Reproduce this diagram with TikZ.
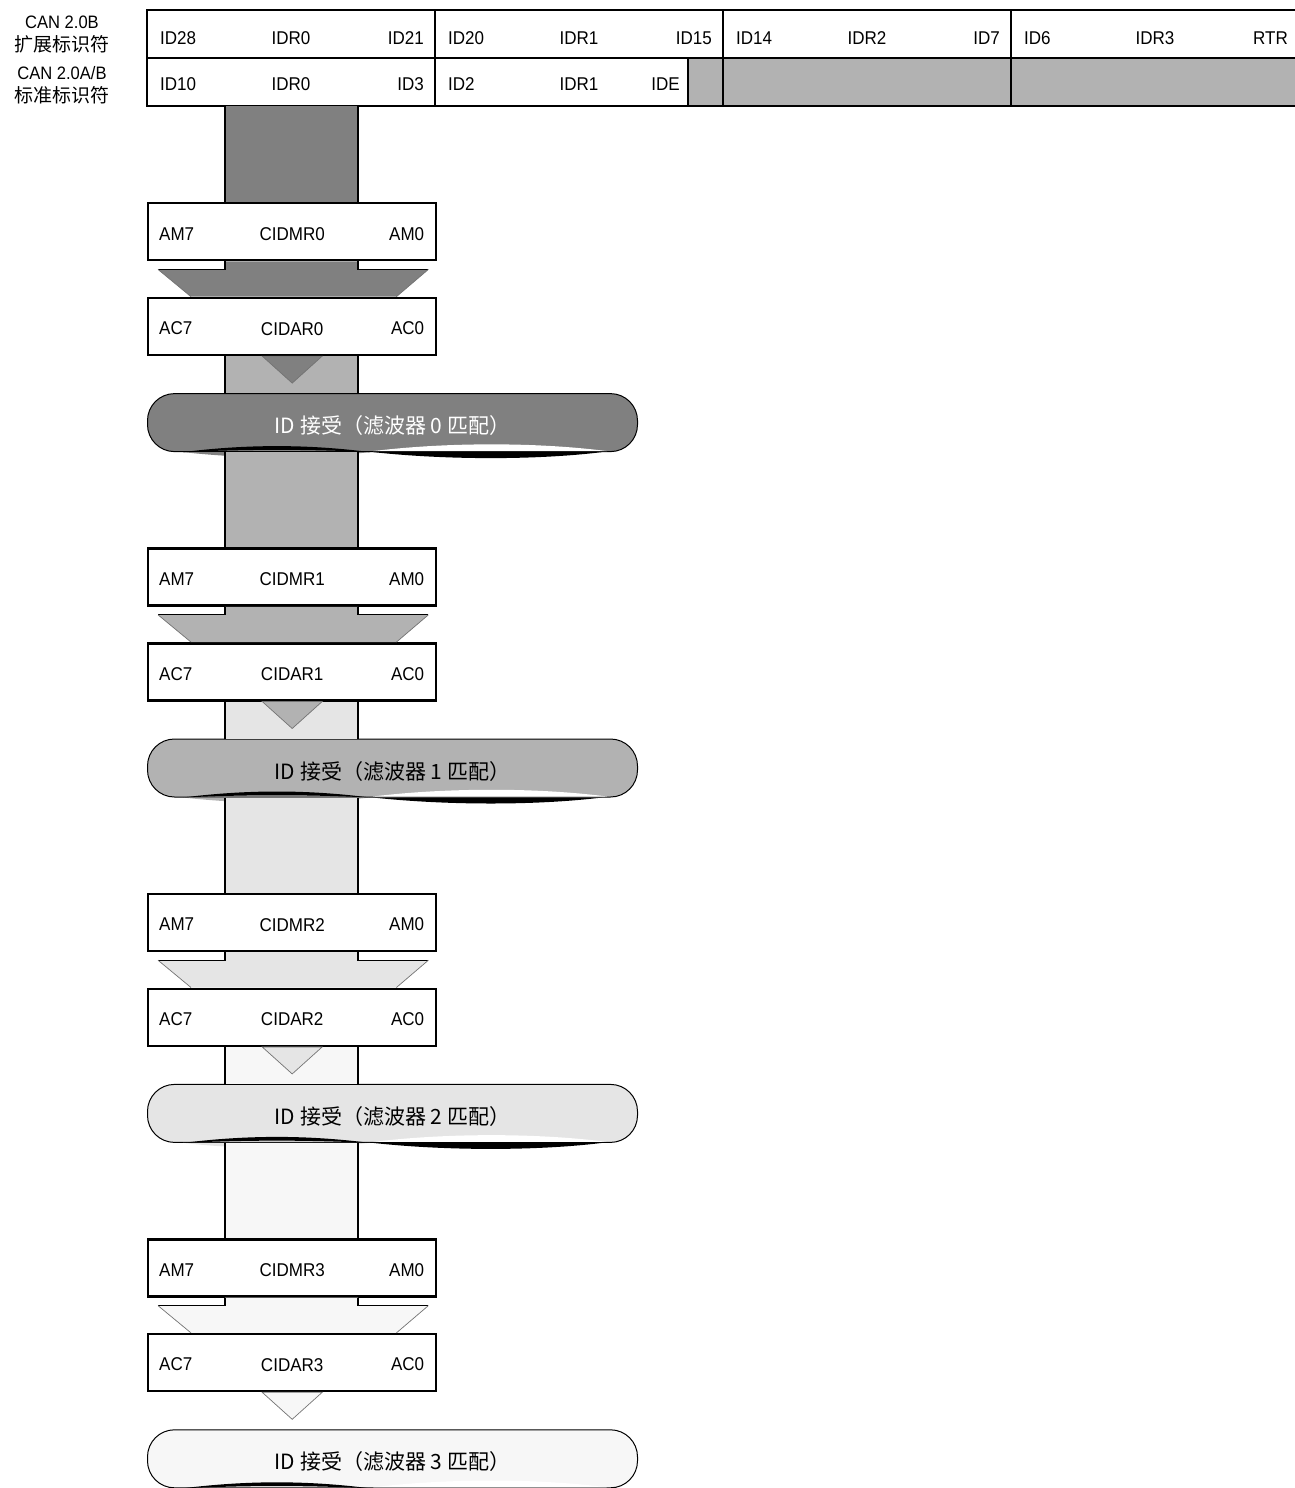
\documentclass[tikz,border=0pt]{standalone}
\usepackage{fontspec}
\setmainfont{Liberation Sans}[FakeStretch=0.92]
\newfontfamily\cjk{Noto Sans CJK SC}
\usetikzlibrary{positioning, calc}

\definecolor{fltShade0}{gray}{0.50}
\definecolor{fltShade1}{gray}{0.70}
\definecolor{fltShade2}{gray}{0.90}
\definecolor{fltShade3}{gray}{0.97}

\tikzstyle{regCell} = [rectangle, minimum width=288pt, minimum height=48pt, draw=black, line width=2.6pt, outer sep=0pt, inner sep=0pt, text depth=0pt, font=\fontsize{18.5}{20}\selectfont]
\tikzstyle{regBox} = [rectangle, minimum width=288pt, minimum height=57pt, draw=black, line width=2.4pt, fill=white, inner sep=0pt, text height=17.2pt, text depth=0pt, font=\fontsize{18.5}{20}\selectfont]
\tikzstyle{acceptPill} = [rectangle, rounded corners=27pt, minimum width=490pt, minimum height=58pt, draw=black, line width=1pt, inner sep=0pt, text height=24.5pt, text depth=2.5pt, font=\cjk\fontsize{21}{24}\selectfont]
\tikzstyle{bitText} = [inner sep=0pt, font=\fontsize{18.5}{20}\selectfont]
\tikzstyle{sideText} = [inner sep=0pt, font=\fontsize{18}{20}\selectfont]
\tikzstyle{sideTextCn} = [inner sep=0pt, font=\cjk\fontsize{19}{21}\selectfont]
\tikzstyle{bandLine} = [line width=1.2pt]
\tikzstyle{arrowEdge} = [draw=black!55, line width=0.7pt]

\begin{document}
\begin{tikzpicture}[x=1pt, y=-1pt]
    \useasboundingbox (0,0) rectangle (1294,1488);

    % identifier formats
    \node (extName) [sideText] at (62,22) {CAN 2.0B};
    \node (extNameCn) [sideTextCn] at (62,44) {扩展标识符};
    \node (stdName) [sideText] at (62,73) {CAN 2.0A/B};
    \node (stdNameCn) [sideTextCn] at (62,95) {标准标识符};

    % identifier registers
    \node (ext0) [regCell, text height=21.2pt] at (291,34) {IDR0};
    \node (std0) [regCell, text height=17.2pt, below=0pt of ext0] {IDR0};
    \foreach \col/\ename/\sname/\tone in {1/IDR1/IDR1/white, 2/IDR2//fltShade1, 3/IDR3//fltShade1} {
        \pgfmathtruncatemacro\p{\col-1}
        \node (ext\col) [regCell, text height=21.2pt, right=0pt of ext\p] {\ename};
        \node (std\col) [regCell, text height=17.2pt, fill=\tone, below=0pt of ext\col] {\sname};
    }
    \node (ideCell) [regCell, minimum width=35pt, fill=fltShade1, anchor=east] at (std1.east) {};

    \foreach \col/\lname/\rname in {0/ID28/ID21, 1/ID20/ID15, 2/ID14/ID7, 3/ID6/RTR} {
        \node (extL\col) [bitText, anchor=west] at ($(ext\col.west)+(13,4)$) {\lname};
        \node (extR\col) [bitText, anchor=east] at ($(ext\col.east)+(-11,4)$) {\rname};
    }
    \node (stdL0) [bitText, anchor=west] at ($(std0.west)+(13,2)$) {ID10};
    \node (stdR0) [bitText, anchor=east] at ($(std0.east)+(-11,2)$) {ID3};
    \node (stdL1) [bitText, anchor=west] at ($(std1.west)+(13,2)$) {ID2};
    \node (stdR1) [bitText, anchor=east] at ($(ideCell.west)+(-8,2)$) {IDE};

    \coordinate (bandL) at ($(std0.south)+(-66,0)$);
    \coordinate (bandR) at ($(std0.south)+(67,0)$);

    \foreach \x/\tone/\nextTone/\txtColor in {0/fltShade0/fltShade1/white, 1/fltShade1/fltShade2/black, 2/fltShade2/fltShade3/black, 3/fltShade3/white/black} {
        \pgfmathtruncatemacro\r{\x-1}

        \ifnum 0=\x
        \xdef\prevNode{std0}
        \xdef\gap{96pt}
        \else
        \xdef\prevNode{accept\r}
        \xdef\gap{95.3pt}
        \fi

        % mask and acceptance registers
        \node (cidmr\x) [regBox, below right=\gap and 0pt of \prevNode.south west] {CIDMR\x};
        \node (cidar\x) [regBox, below=35.3pt of cidmr\x] {CIDAR\x};
        \node (accept\x) [acceptPill, fill=\tone, text=\txtColor, below right=37pt and 0pt of cidar\x.south west] {ID 接受（滤波器 \x{} 匹配）};

        \node (am7\x) [bitText, anchor=west] at ($(cidmr\x.west)+(12,2)$) {AM7};
        \node (am0\x) [bitText, anchor=east] at ($(cidmr\x.east)+(-13,2)$) {AM0};
        \node (ac7\x) [bitText, anchor=west] at ($(cidar\x.west)+(12,2)$) {AC7};
        \node (ac0\x) [bitText, anchor=east] at ($(cidar\x.east)+(-13,2)$) {AC0};

        % band down to the mask register
        \fill [\tone] (bandL |- \prevNode.south) rectangle (bandR |- cidmr\x.north);
        \draw [bandLine] (bandL |- \prevNode.south) -- (bandL |- cidmr\x.north) (bandR |- \prevNode.south) -- (bandR |- cidmr\x.north);

        % wide arrow between the registers
        \coordinate (chevL\x) at ($(cidmr\x.south west)+(11,8)$);
        \coordinate (chevR\x) at ($(cidmr\x.south east)+(-9,8)$);
        \fill [\tone] (bandL |- cidmr\x.south) -- (bandL |- chevL\x) -- (chevL\x) -- ($(cidar\x.north west)+(44,0)$) -- ($(cidar\x.north east)+(-41,0)$) -- (chevR\x) -- (bandR |- chevR\x) -- (bandR |- cidmr\x.south) -- cycle;
        \draw [bandLine] (bandL |- cidmr\x.south) -- (bandL |- chevL\x) -- (chevL\x) (bandR |- cidmr\x.south) -- (bandR |- chevR\x) -- (chevR\x);
        \draw [arrowEdge] (chevL\x) -- ($(cidar\x.north west)+(44,0)$) (chevR\x) -- ($(cidar\x.north east)+(-41,0)$);

        % band down to the result
        \ifnum 3>\x
        \fill [\nextTone] (bandL |- cidar\x.south) rectangle (bandR |- accept\x.north);
        \draw [bandLine] (bandL |- cidar\x.south) -- (bandL |- accept\x.north) (bandR |- cidar\x.south) -- (bandR |- accept\x.north);
        \fi
        \filldraw [fill=\tone, arrowEdge] ($(cidar\x.south)+(-30,0)$) -- ($(cidar\x.south)+(30,0)$) -- ($(cidar\x.south)+(0,27)$) -- cycle;

        % curled edge under the result
        \begin{scope}[shift={(accept\x.south west)}]
            \fill [\tone] (36,0) .. controls (100,7) and (160,7) .. (223,0) -- cycle;
            \fill [black] (36,0) .. controls (100,-8) and (160,-8) .. (223,0) .. controls (160,-3) and (100,-3) .. (36,0) -- cycle;
            \fill [white] (226,-1) .. controls (300,-10) and (390,-10) .. (460,-1) -- cycle;
            \fill [black] (226,0) .. controls (300,8) and (390,8) .. (455,0) -- cycle;
        \end{scope}
    }

\end{tikzpicture}
\end{document}
